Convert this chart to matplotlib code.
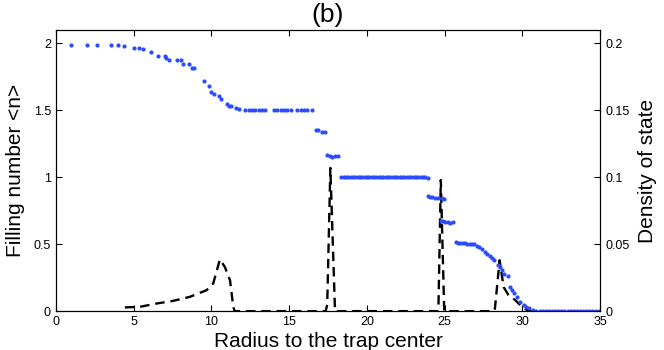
import numpy as np
import matplotlib
matplotlib.use("Agg")
import matplotlib.pyplot as plt

plt.rcParams['font.family'] = ['Liberation Sans', 'DejaVu Sans']

# filling number <n> (blue dots, left axis)
r_fill = [1.0, 2.0, 2.66, 3.58, 3.99, 4.38, 5.02, 5.32, 5.58, 6.09, 6.56, 6.99, 7.08, 7.25,
          7.81, 8.02, 8.19, 8.56, 8.73, 8.88, 9.54, 9.87, 9.97, 10.17, 10.47, 10.6, 10.98,
          11.11, 11.28, 11.56, 11.8,
          12.18, 12.4, 12.61, 12.82, 13.04, 13.25, 13.46, 14.03, 14.24, 14.46, 14.67, 14.88,
          15.1, 15.53, 15.75, 15.96, 16.13, 16.47,
          16.7, 16.85, 17.1, 17.3,
          17.45, 17.6, 17.75, 17.95, 18.15,
          18.35, 18.5, 18.65, 18.8, 18.95, 19.1, 19.25, 19.4, 19.55, 19.7, 19.85, 20.0, 20.15,
          20.3, 20.45, 20.6, 20.75, 20.9, 21.05, 21.2, 21.35, 21.5, 21.65, 21.8, 21.95, 22.1,
          22.25, 22.4, 22.55, 22.7, 22.85, 23.0, 23.15, 23.3, 23.45, 23.6, 23.75, 23.95,
          23.9, 24.05, 24.2, 24.4, 24.6, 24.8, 24.95,
          24.75, 24.9, 25.05, 25.2, 25.35, 25.55,
          25.7, 25.85, 26.0, 26.15, 26.3, 26.45, 26.6, 26.75, 26.9, 27.05, 27.2,
          27.39, 27.6, 27.75, 27.92, 28.05, 28.14, 28.4, 28.55, 28.68, 28.83, 29.04, 29.17,
          29.3, 29.43, 29.65, 29.86, 30.07, 30.25, 30.4, 30.7,
          30.9, 31.1, 31.3, 31.5, 31.7, 31.9, 32.1, 32.3, 32.5, 32.7, 32.9, 33.1, 33.3, 33.5,
          33.7, 33.9, 34.1, 34.3, 34.5, 34.7, 34.9]
n_fill = [1.99, 1.99, 1.99, 1.985, 1.985, 1.98, 1.968, 1.965, 1.96, 1.935, 1.91, 1.903, 1.893,
          1.876, 1.873, 1.876, 1.846, 1.846, 1.82, 1.82, 1.72, 1.684, 1.637, 1.622, 1.61,
          1.582, 1.545, 1.532, 1.53, 1.52, 1.513,
          1.505, 1.505, 1.503, 1.503, 1.503, 1.503, 1.502, 1.503, 1.503, 1.502, 1.502, 1.502,
          1.502, 1.502, 1.502, 1.502, 1.501, 1.5,
          1.35, 1.355, 1.34, 1.34,
          1.165, 1.16, 1.155, 1.16, 1.16,
          1.005, 1.004, 1.003, 1.003, 1.003, 1.002, 1.002, 1.002, 1.002, 1.002, 1.002, 1.001, 1.001,
          1.001, 1.001, 1.001, 1.001, 1.001, 1.001, 1.001, 1.001, 1.001, 1.001, 1.001, 1.001,
          1.0, 1.0, 1.0, 1.0, 1.0, 1.0, 1.0, 1.0, 1.0, 1.0, 1.0, 1.0, 0.998,
          0.858, 0.855, 0.85, 0.848, 0.845, 0.845, 0.84,
          0.675, 0.672, 0.665, 0.665, 0.66, 0.668,
          0.515, 0.512, 0.51, 0.51, 0.508, 0.505, 0.505, 0.5, 0.5, 0.49, 0.48,
          0.468, 0.443, 0.425, 0.41, 0.395, 0.385, 0.343, 0.33, 0.306, 0.281, 0.261, 0.181,
          0.16, 0.137, 0.107, 0.07, 0.045, 0.03, 0.02, 0.007,
          0.004, 0.003, 0.002, 0.002, 0.002, 0.001, 0.001, 0.001, 0.001, 0.001, 0.001, 0.0,
          0.0, 0.0, 0.0, 0.0, 0.0, 0.0, 0.0, 0.0, 0.0]

# density of state (black dashed line, right axis)
r_dos = [4.44, 5.4, 6.48, 7.55, 8.62, 9.7, 10.12, 10.55, 10.87, 11.2, 11.41, 11.5,
         17.35, 17.45, 17.65, 17.95, 18.0,
         24.55, 24.6, 24.75, 24.97, 25.05,
         28.15, 28.23, 28.53, 28.79, 29.1, 29.54, 29.97, 30.4, 35.0]
dos = [0.0028, 0.0032, 0.0057, 0.0077, 0.0107, 0.0157, 0.0207, 0.0386, 0.033, 0.0231, 0.0032, 0.0,
       0.0, 0.005, 0.107, 0.0, 0.0,
       0.0, 0.004, 0.098, 0.0, 0.0,
       0.0, 0.002, 0.038, 0.018, 0.012, 0.0082, 0.0032, 0.0, 0.0]

fig = plt.figure(figsize=(6.64, 3.5), dpi=100)
ax = fig.add_axes([0.084, 0.111, 0.82, 0.803])
ax2 = ax.twinx()

ax2.plot(r_dos, dos, color="black", linestyle="--", linewidth=1.7, dashes=(4, 2.5))
ax.plot(r_fill, n_fill, linestyle="none", marker="o", markersize=3,
        color="#2a4bff", markeredgewidth=0)
ax.set_zorder(ax2.get_zorder() + 1)
ax.patch.set_visible(False)

ax.set_xlim(0, 35)
ax.set_ylim(0, 2.1)
ax2.set_ylim(0, 0.21)
ax.set_xticks([0, 5, 10, 15, 20, 25, 30, 35])
ax.set_xticklabels(["0", "5", "10", "15", "20", "25", "30", "35"])
ax.set_yticks([0, 0.5, 1, 1.5, 2])
ax.set_yticklabels(["0", "0.5", "1", "1.5", "2"])
ax2.set_yticks([0, 0.05, 0.1, 0.15, 0.2])
ax2.set_yticklabels(["0", "0.05", "0.1", "0.15", "0.2"])

ax.tick_params(direction="in", length=4, labelsize=9, top=True, right=False)
ax2.tick_params(direction="in", length=4, labelsize=9)

ax.set_xlabel("Radius to the trap center", fontsize=15, labelpad=3)
ax.set_ylabel("Filling number <n>", fontsize=15, labelpad=6)
ax2.set_ylabel("Density of state", fontsize=15, labelpad=6)
ax.set_title("(b)", fontsize=19, pad=6)

fig.savefig("out.png", dpi=100)
